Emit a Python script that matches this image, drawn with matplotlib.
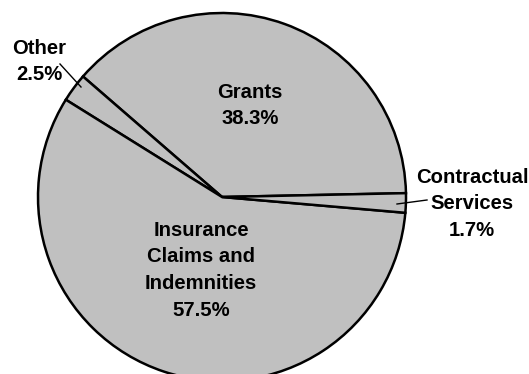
import matplotlib
matplotlib.use("Agg")
import matplotlib.pyplot as plt

# Expenditure shares (percent), counter-clockwise from the right
categories = ["Grants", "Other", "Insurance Claims and Indemnities", "Contractual Services"]
shares = [38.3, 2.5, 57.5, 1.7]
label_lines = [
    ["Grants", "38.3%"],
    ["Other", "2.5%"],
    ["Insurance", "Claims and", "Indemnities", "57.5%"],
    ["Contractual", "Services", "1.7%"],
]

W, H = 529, 374
fig = plt.figure(figsize=(W / 100, H / 100), dpi=100)
ax = fig.add_axes([0, 0, 1, 1])

cx, cy, r = 222, H - 197, 184
ax.pie(shares, startangle=1.2, counterclock=True, center=(cx, cy), radius=r,
       colors=["#c0c0c0"] * len(shares),
       wedgeprops=dict(edgecolor="black", linewidth=1.8),
       frame=True)
ax.set_xlim(0, W)
ax.set_ylim(0, H)
ax.set_aspect("equal")
ax.axis("off")

font = dict(family=["Liberation Sans", "DejaVu Sans"], fontweight="bold",
            fontsize=14.6, ha="center", va="center", color="black")

# label block anchors: (x, top-line y in pixels from top)
anchors = [(250, 92), (39, 48), (201, 230), (472, 177)]
step = 26.7
for lines, (x, y0) in zip(label_lines, anchors):
    for i, line in enumerate(lines):
        ax.text(x, H - (y0 + i * step), line, **font)

# leader lines for the thin slices
ax.plot([60, 81], [H - 64, H - 87], color="black", lw=1.0)
ax.plot([397, 427], [H - 204, H - 200], color="black", lw=1.0)

fig.savefig("out.png", dpi=100)
